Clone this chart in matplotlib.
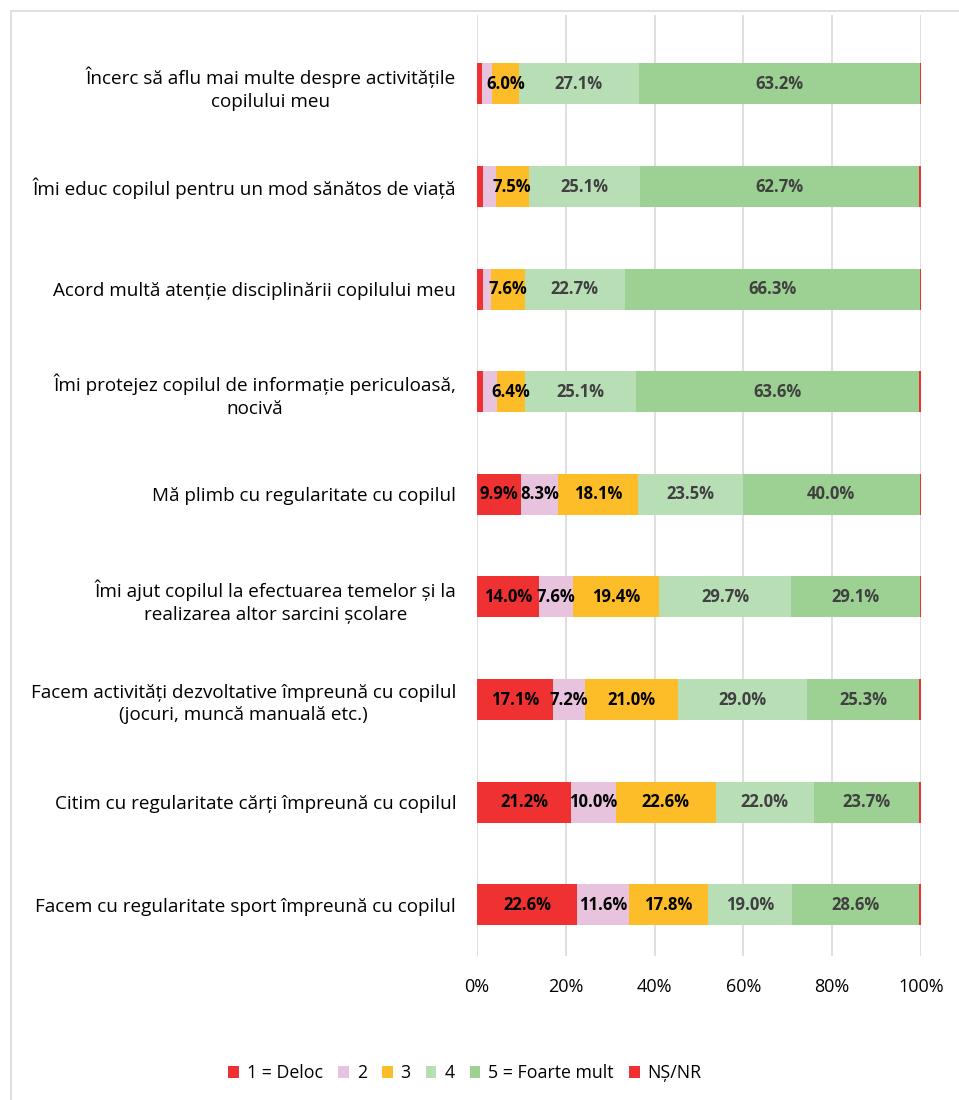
import matplotlib
matplotlib.use("Agg")
import matplotlib.pyplot as plt
from matplotlib.patches import Rectangle
import numpy as np

plt.rcParams['font.family'] = ['Open Sans', 'DejaVu Sans']

categories = [
    "Încerc să aflu mai multe despre activitățile\ncopilului meu",
    "Îmi educ copilul pentru un mod sănătos de viață",
    "Acord multă atenție disciplinării copilului meu",
    "Îmi protejez copilul de informație periculoasă,\nnocivă",
    "Mă plimb cu regularitate cu copilul",
    "Îmi ajut copilul la efectuarea temelor și la\nrealizarea altor sarcini școlare",
    "Facem activități dezvoltative împreună cu copilul\n(jocuri, muncă manuală etc.)",
    "Citim cu regularitate cărți împreună cu copilul",
    "Facem cu regularitate sport împreună cu copilul",
]
series_names = ["1 = Deloc", "2", "3", "4", "5 = Foarte mult", "NȘ/NR"]
deloc = [1.2, 1.4, 1.4, 1.4, 9.9, 14.0, 17.1, 21.2, 22.6]
s2 = [2.2, 2.8, 1.7, 3.0, 8.3, 7.6, 7.2, 10.0, 11.6]
s3 = [6.0, 7.5, 7.6, 6.4, 18.1, 19.4, 21.0, 22.6, 17.8]
s4 = [27.1, 25.1, 22.7, 25.1, 23.5, 29.7, 29.0, 22.0, 19.0]
s5 = [63.2, 62.7, 66.3, 63.6, 40.0, 29.1, 25.3, 23.7, 28.6]
nsnr = [0.3, 0.5, 0.3, 0.5, 0.2, 0.2, 0.4, 0.5, 0.4]
xticks = [0, 20, 40, 60, 80, 100]
xticklabels = ["0%", "20%", "40%", "60%", "80%", "100%"]

colors = ["#EF3131", "#E8C3DD", "#FDBD29", "#B8DEB6", "#9CD193", "#EF3131"]
label_colors = ["#000000", "#000000", "#000000", "#404040", "#404040", "#000000"]

W, H = 959, 1100
fig = plt.figure(figsize=(W / 100, H / 100), dpi=100)
fig.patches.append(Rectangle((11 / W, -0.01), 1.0, 1 - 11 / H + 0.01,
                             transform=fig.transFigure, fill=False,
                             edgecolor="#D9D9D9", linewidth=1.2))

ax = fig.add_axes([477 / W, 1 - 956 / H, (921 - 477) / W, (956 - 15) / H])
y = np.arange(len(categories))
data = [deloc, s2, s3, s4, s5, nsnr]
left = np.zeros(len(categories))
for vals, name, c, lc in zip(data, series_names, colors, label_colors):
    vals = np.array(vals)
    ax.barh(y, vals, left=left, height=0.40, color=c, label=name, zorder=3)
    for yi, (l, v) in enumerate(zip(left, vals)):
        if v >= 5:
            ax.text(l + v / 2, yi, f"{v:.1f}%", ha="center", va="center",
                    fontsize=12, fontweight="bold", color=lc, zorder=4)
    left = left + vals

ax.set_xlim(0, 100)
ax.set_ylim(8.5, -0.672)
ax.set_yticks(y)
ax.set_yticklabels(categories, fontsize=13.6, multialignment="center",
                   linespacing=1.35)
ax.set_xticks(xticks)
ax.set_xticklabels(xticklabels, fontsize=13)
ax.tick_params(axis="y", length=0, pad=15)
ax.tick_params(axis="x", length=0, pad=16)
ax.grid(axis="x", color="#D9D9D9", linewidth=1.2, zorder=0)
for s in ax.spines.values():
    s.set_visible(False)

handles, labels = ax.get_legend_handles_labels()
fig.legend(handles, labels, loc="center", bbox_to_anchor=(465 / W, 1 - 1073 / H),
           ncol=6, frameon=False, fontsize=12.8, handlelength=0.6, handleheight=0.7,
           handletextpad=0.45, columnspacing=0.85)

fig.savefig("out.png", dpi=100)
